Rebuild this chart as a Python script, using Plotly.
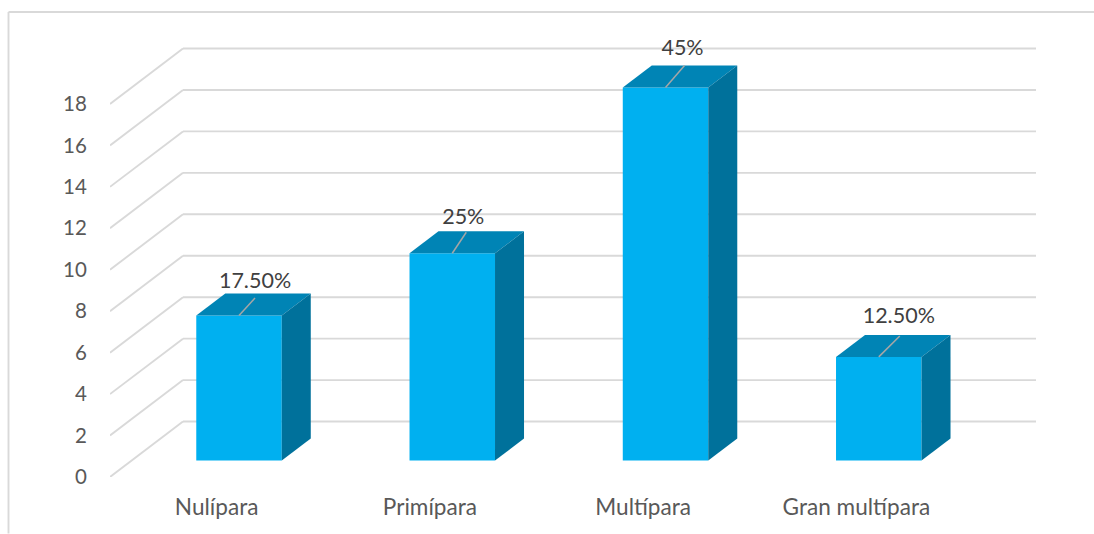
import plotly.graph_objects as go

categories = ["Nulípara", "Primípara", "Multípara", "Gran multípara"]
counts = [7, 10, 18, 5]
percent_labels = ["17.50%", "25%", "45%", "12.50%"]
y_ticks = [0, 2, 4, 6, 8, 10, 12, 14, 16, 18]

W, H = 1094, 534
L, R, T, B = 110, 1036, 30, 477.5
X_UNIT = 213.25
Y_UNIT = 20.75
x_min = -0.5
x_max = x_min + (R - L) / X_UNIT
y_max = (B - T) / Y_UNIT

# projected depth vectors, in data units
WALL_DX, WALL_DY = 73 / X_UNIT, 55.5 / Y_UNIT
FLOOR_DX, FLOOR_DY = 0.105, 16.5 / Y_UNIT
BAR_W = 85.5 / X_UNIT
BAR_DX, BAR_DY = 29 / X_UNIT, 22 / Y_UNIT

# data-label placement relative to each bar's top front centre, in pixels
label_dx = [16, 11, 17, 20]
label_dy = [32.5, 35, 38, 39]
leader_dx = [16, 14, 19, 21]
leader_dy = [17.5, 21, 22, 21]

FRONT, TOP, SIDE = "#00B0F0", "#0084B5", "#00719B"
GRID = "#D9D9D9"
FONT = "Lato"

fig = go.Figure()

xc = [i + FLOOR_DX for i in range(len(categories))]
fig.add_trace(go.Bar(
    x=xc, y=counts, base=FLOOR_DY, width=BAR_W,
    marker=dict(color=FRONT, line=dict(width=0)),
    hoverinfo="skip", showlegend=False,
))

for c, v, ldx, ldy in zip(xc, counts, leader_dx, leader_dy):
    x0, x1 = c - BAR_W / 2, c + BAR_W / 2
    y0, y1 = FLOOR_DY, FLOOR_DY + v
    fig.add_trace(go.Scatter(
        x=[x0, x1, x1 + BAR_DX, x0 + BAR_DX, x0],
        y=[y1, y1, y1 + BAR_DY, y1 + BAR_DY, y1],
        fill="toself", fillcolor=TOP, mode="none",
        hoverinfo="skip", showlegend=False,
    ))
    fig.add_trace(go.Scatter(
        x=[x1, x1 + BAR_DX, x1 + BAR_DX, x1, x1],
        y=[y0, y0 + BAR_DY, y1 + BAR_DY, y1, y0],
        fill="toself", fillcolor=SIDE, mode="none",
        hoverinfo="skip", showlegend=False,
    ))
    # leader line
    fig.add_trace(go.Scatter(
        x=[c, c + ldx / X_UNIT],
        y=[y1, y1 + ldy / Y_UNIT],
        mode="lines", line=dict(color="#A6A6A6", width=1.5),
        hoverinfo="skip", showlegend=False,
    ))

fig.add_trace(go.Scatter(
    x=[c + d / X_UNIT for c, d in zip(xc, label_dx)],
    y=[FLOOR_DY + v + d / Y_UNIT for v, d in zip(counts, label_dy)],
    text=percent_labels, mode="text", textposition="middle center",
    textfont=dict(family=FONT, size=21.5, color="#404040"),
    hoverinfo="skip", showlegend=False,
))

shapes = []
for t in y_ticks:
    # diagonal on the side wall, then the horizontal line on the back wall
    shapes.append(dict(type="line", xref="x", yref="y", layer="below",
                       x0=x_min, y0=t, x1=x_min + WALL_DX, y1=t + WALL_DY,
                       line=dict(color=GRID, width=1.9)))
    shapes.append(dict(type="line", xref="x", yref="y", layer="below",
                       x0=x_min + WALL_DX, y0=t + WALL_DY, x1=x_max, y1=t + WALL_DY,
                       line=dict(color=GRID, width=1.9)))

# outer chart frame (top and left edges only)
px = lambda v: (v - L) / (R - L)
py = lambda v: (B - v) / (B - T)
shapes.append(dict(type="line", xref="paper", yref="paper", layer="below",
                   x0=px(8.5), y0=py(12), x1=px(W), y1=py(12),
                   line=dict(color=GRID, width=1.9)))
shapes.append(dict(type="line", xref="paper", yref="paper", layer="below",
                   x0=px(8.5), y0=py(12), x1=px(8.5), y1=py(H),
                   line=dict(color=GRID, width=1.9)))

fig.update_layout(
    width=W, height=H, autosize=False,
    margin=dict(l=L, r=W - R, t=T, b=H - B, pad=0),
    paper_bgcolor="white", plot_bgcolor="rgba(0,0,0,0)",
    showlegend=False, shapes=shapes,
    font=dict(family=FONT, size=20.5, color="#595959"),
    xaxis=dict(range=[x_min, x_max], tickmode="array", automargin=False,
               tickvals=list(range(len(categories))), ticktext=categories,
               tickfont=dict(family=FONT, size=22.6, color="#595959"),
               showgrid=False, zeroline=False, showline=False,
               ticks="outside", ticklen=10, tickcolor="rgba(0,0,0,0)"),
    yaxis=dict(range=[0, y_max], tickmode="array", tickvals=y_ticks, automargin=False,
               showgrid=False, zeroline=False, showline=False,
               ticks="outside", ticklen=18, tickcolor="rgba(0,0,0,0)"),
)

fig.write_html("out.html", config={"displayModeBar": False},
               post_script="document.body.style.margin='0';document.body.style.overflow='hidden';")
